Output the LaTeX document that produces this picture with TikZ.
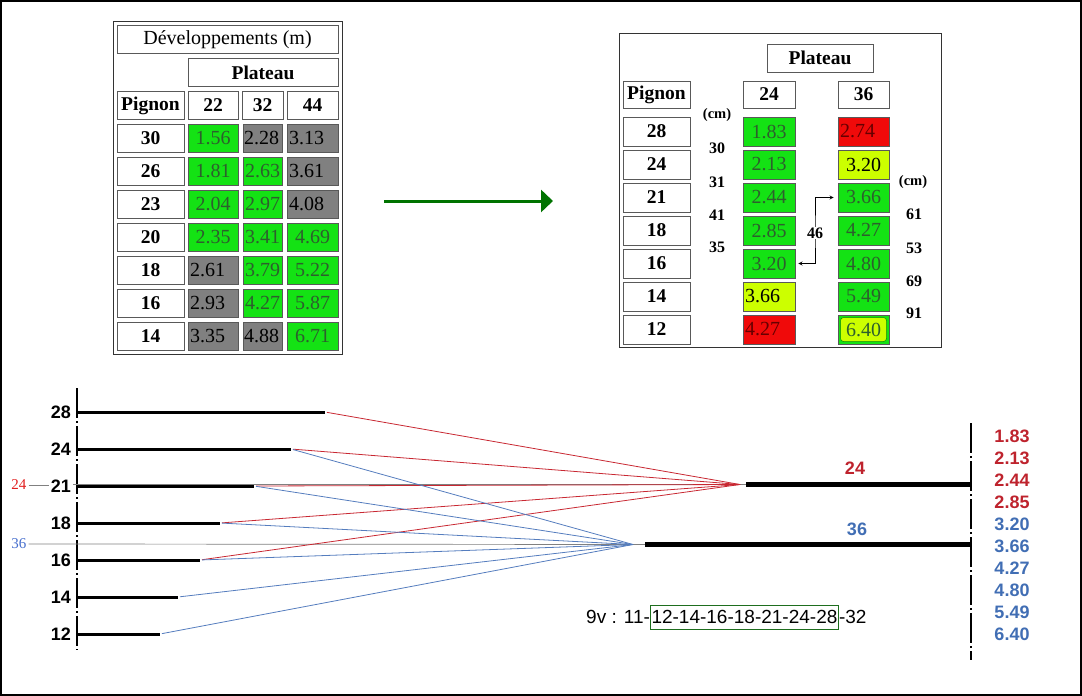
\documentclass[tikz,border=0pt]{standalone}
\usepackage{fontspec}
\setmainfont{Liberation Serif}
\setsansfont{Liberation Sans}
\usepackage{tikz}
\usetikzlibrary{positioning}
\usetikzlibrary{arrows}
\usetikzlibrary{arrows.meta}

\definecolor{cellgreen}{RGB}{20,226,20}
\definecolor{cellgrey}{RGB}{128,128,128}
\definecolor{cellyellow}{RGB}{204,255,0}
\definecolor{cellred}{RGB}{240,10,10}
\definecolor{numgreen}{RGB}{45,95,45}
\definecolor{arrowgreen}{RGB}{0,115,0}
\definecolor{ringred}{RGB}{190,35,45}
\definecolor{ringblue}{RGB}{65,110,180}
\definecolor{chainred}{RGB}{200,40,50}
\definecolor{chainblue}{RGB}{85,125,190}
\definecolor{refred}{RGB}{225,30,30}
\definecolor{refblue}{RGB}{70,110,205}
\definecolor{boxgreen}{RGB}{30,110,30}

\tikzset{
  cell/.style={draw=black!65, line width=0.8pt, fill=white, minimum height=28, inner sep=2pt, font=\fontsize{20}{20}\selectfont},
  head/.style={cell, font=\fontsize{19.5}{20}\selectfont\bfseries},
  good/.style={cell, fill=cellgreen, text=numgreen, align=center},
  poor/.style={cell, fill=cellgrey, align=left},
  warn/.style={cell, fill=cellyellow, align=left},
  bad/.style={cell, fill=cellred, text=black!60!red, align=left},
  c22/.style={text width=46pt},
  c32/.style={text width=37pt, inner xsep=1pt},
  c44/.style={text width=47pt},
  d24/.style={text width=48pt, minimum height=29},
  d36/.style={text width=47pt, minimum height=29},
  gapnum/.style={font=\fontsize{16}{16}\selectfont\bfseries, inner sep=1pt},
  cog/.style={font=\sffamily\fontsize{18}{18}\selectfont\bfseries, anchor=east, inner sep=2pt},
  devnum/.style={font=\sffamily\fontsize{18}{18}\selectfont\bfseries, inner sep=1pt},
  axisline/.style={line width=1.5pt, dash pattern=on 30pt off 3pt on 2pt off 3pt},
  cogbar/.style={line width=3pt},
  ringbar/.style={line width=4.5pt},
  refline/.style={draw=black!50, line width=0.7pt},
  redchain/.style={draw=chainred, line width=0.8pt, shorten <=2pt},
  bluechain/.style={draw=chainblue, line width=0.8pt, shorten <=2pt}
}

\begin{document}
\begin{tikzpicture}[x=1pt, y=-1pt]

  \useasboundingbox (0,0) rectangle (1082,696);
  \draw[line width=2pt] (1,1) rectangle (1081,695);

  % Left table
  \draw[line width=1pt, black!80] (113,21) rectangle (342,354);
  \node[cell, minimum width=221] (ltitle) at (227.5,39.5) {Développements (m)};
  \node[head, minimum width=150] (lplat) at (263,72.5) {Plateau};
  \node[head, minimum width=67] (lpig) at (150.5,105.5) {Pignon};
  \node[head, minimum width=50] (l22) at (213,105.5) {22};
  \node[head, minimum width=41] (l32) at (262.5,105.5) {32};
  \node[head, minimum width=51] (l44) at (312.5,105.5) {44};

  \node[head, minimum width=67] (lp30) at (150.5,138) {30};
  \node[good, c22] (l30a) at (213,138) {1.56};
  \node[poor, c32] (l30b) at (262.5,138) {2.28};
  \node[poor, c44] (l30c) at (312.5,138) {3.13};

  \node[head, minimum width=67] (lp26) at (150.5,171) {26};
  \node[good, c22] (l26a) at (213,171) {1.81};
  \node[good, c32] (l26b) at (262.5,171) {2.63};
  \node[poor, c44] (l26c) at (312.5,171) {3.61};

  \node[head, minimum width=67] (lp23) at (150.5,204) {23};
  \node[good, c22] (l23a) at (213,204) {2.04};
  \node[good, c32] (l23b) at (262.5,204) {2.97};
  \node[poor, c44] (l23c) at (312.5,204) {4.08};

  \node[head, minimum width=67] (lp20) at (150.5,237) {20};
  \node[good, c22] (l20a) at (213,237) {2.35};
  \node[good, c32] (l20b) at (262.5,237) {3.41};
  \node[good, c44] (l20c) at (312.5,237) {4.69};

  \node[head, minimum width=67] (lp18) at (150.5,270) {18};
  \node[poor, c22] (l18a) at (213,270) {2.61};
  \node[good, c32] (l18b) at (262.5,270) {3.79};
  \node[good, c44] (l18c) at (312.5,270) {5.22};

  \node[head, minimum width=67] (lp16) at (150.5,303) {16};
  \node[poor, c22] (l16a) at (213,303) {2.93};
  \node[good, c32] (l16b) at (262.5,303) {4.27};
  \node[good, c44] (l16c) at (312.5,303) {5.87};

  \node[head, minimum width=67] (lp14) at (150.5,336) {14};
  \node[poor, c22] (l14a) at (213,336) {3.35};
  \node[poor, c32] (l14b) at (262.5,336) {4.88};
  \node[good, c44] (l14c) at (312.5,336) {6.71};

  % Green arrow between the tables
  \coordinate (arrA) at (384,201);
  \coordinate (arrB) at (553,201);
  \draw[-{Triangle[length=12pt, width=22pt]}, line width=3pt, arrowgreen] (arrA) -- (arrB);

  % Right table
  \draw[line width=1pt, black!80] (619,33) rectangle (941,347);
  \node[head, minimum width=106] (rplat) at (820,58) {Plateau};
  \node[head, minimum width=67, minimum height=27] (rpig) at (656.5,94.5) {Pignon};
  \node[head, minimum width=52, minimum height=27] (r24) at (769,94.5) {24};
  \node[head, minimum width=51, minimum height=27] (r36) at (863.5,94.5) {36};

  \node[head, minimum width=67, minimum height=29] (rp28) at (656.5,131.5) {28};
  \node[good, d24] (a28) at (769,131.5) {1.83};
  \node[bad, d36] (b28) at (863.5,131.5) {2.74};

  \node[head, minimum width=67, minimum height=29] (rp24) at (656.5,164.5) {24};
  \node[good, d24] (a24) at (769,164.5) {2.13};
  \node[warn, d36, align=center] (b24) at (863.5,164.5) {3.20};

  \node[head, minimum width=67, minimum height=29] (rp21) at (656.5,197.5) {21};
  \node[good, d24] (a21) at (769,197.5) {2.44};
  \node[good, d36] (b21) at (863.5,197.5) {3.66};

  \node[head, minimum width=67, minimum height=29] (rp18) at (656.5,230.5) {18};
  \node[good, d24] (a18) at (769,230.5) {2.85};
  \node[good, d36] (b18) at (863.5,230.5) {4.27};

  \node[head, minimum width=67, minimum height=29] (rp16) at (656.5,263.5) {16};
  \node[good, d24] (a16) at (769,263.5) {3.20};
  \node[good, d36] (b16) at (863.5,263.5) {4.80};

  \node[head, minimum width=67, minimum height=29] (rp14) at (656.5,296.5) {14};
  \node[warn, d24] (a14) at (769,296.5) {3.66};
  \node[good, d36] (b14) at (863.5,296.5) {5.49};

  \node[head, minimum width=67, minimum height=29] (rp12) at (656.5,329.5) {12};
  \node[bad, d24] (a12) at (769,329.5) {4.27};
  \node[good, d36] (b12) at (863.5,329.5) {};
  \node[fill=cellyellow, draw=cellgreen!60!black, line width=0.5pt, rounded corners=3pt, minimum width=46, minimum height=24, inner sep=1pt, text=numgreen, font=\fontsize{20}{20}\selectfont] (b12in) at (b12) {6.40};

  % Gaps in cm
  \node[gapnum, font=\fontsize{14.5}{14.5}\selectfont\bfseries] (cmA) at (717,115) {(cm)};
  \node[gapnum] (gA1) at (717,148) {30};
  \node[gapnum] (gA2) at (717,182) {31};
  \node[gapnum] (gA3) at (717,215) {41};
  \node[gapnum] (gA4) at (717,247) {35};
  \node[gapnum, font=\fontsize{14.5}{14.5}\selectfont\bfseries] (cmB) at (913,182) {(cm)};
  \node[gapnum] (gB1) at (914,214) {61};
  \node[gapnum] (gB2) at (914,248) {53};
  \node[gapnum] (gB3) at (914,281) {69};
  \node[gapnum] (gB4) at (914,313) {91};

  % Shift arrow
  \coordinate (jog) at (815,233);
  \draw[<->, >=stealth, line width=0.8pt, shorten <=3pt, shorten >=4pt] (a16.east) -| (jog) |- (b21.west);
  \node[gapnum, fill=white] (shift) at (jog) {46};

  % Bottom: cogs
  \coordinate (axL) at (77,388);
  \coordinate (axLend) at (77,650);
  \draw[axisline] (axL) -- (axLend);

  \node[cog] (g28) at (73,412) {28};
  \node[cog] (g24) at (73,449) {24};
  \node[cog] (g21) at (73,486) {21};
  \node[cog] (g18) at (73,523) {18};
  \node[cog] (g16) at (73,560) {16};
  \node[cog] (g14) at (73,597) {14};
  \node[cog] (g12) at (73,634) {12};

  \coordinate (e28) at (325,412);
  \coordinate (e24) at (291,449);
  \coordinate (e21) at (254,486);
  \coordinate (e18) at (220,523);
  \coordinate (e16) at (200,560);
  \coordinate (e14) at (178,597);
  \coordinate (e12) at (160,634);

  \draw[cogbar] (g28 -| axL) -- (e28);
  \draw[cogbar] (g24 -| axL) -- (e24);
  \draw[cogbar] (g21 -| axL) -- (e21);
  \draw[cogbar] (g18 -| axL) -- (e18);
  \draw[cogbar] (g16 -| axL) -- (e16);
  \draw[cogbar] (g14 -| axL) -- (e14);
  \draw[cogbar] (g12 -| axL) -- (e12);

  % Chainring references
  \coordinate (c24) at (740,484.5);
  \coordinate (c36) at (633,544.5);
  \coordinate (s24) at (746,484.5);
  \coordinate (s36) at (645,544.5);
  \node[font=\fontsize{15}{15}\selectfont, text=refred, inner sep=2pt] (ref24) at (19,485) {24};
  \node[font=\fontsize{15}{15}\selectfont, text=refblue, inner sep=2pt] (ref36) at (19,544) {36};
  \draw[refline] (ref24.east) -- (ref24.east -| g21.west);
  \draw[refline] (g21.east |- c24) -- (s24);
  \draw[refline] (ref36.east) -- (s36);

  % Chain lines
  \draw[redchain] (e28) -- (c24);
  \draw[redchain] (e24) -- (c24);
  \draw[redchain] (e21) -- (c24);
  \draw[redchain] (e18) -- (c24);
  \draw[redchain] (e16) -- (c24);
  \draw[bluechain] (e24) -- (c36);
  \draw[bluechain] (e21) -- (c36);
  \draw[bluechain] (e18) -- (c36);
  \draw[bluechain] (e16) -- (c36);
  \draw[bluechain] (e14) -- (c36);
  \draw[bluechain] (e12) -- (c36);

  % Chainrings
  \coordinate (axR) at (971,423);
  \coordinate (axRend) at (971,660);
  \draw[ringbar] (s24) -- (s24 -| axR);
  \draw[ringbar] (s36) -- (s36 -| axR);
  \draw[axisline] (axR) -- (axRend);
  \node[devnum, text=ringred] (n24) at (855,468) {24};
  \node[devnum, text=ringblue] (n36) at (857,529) {36};

  % Developments
  \node[devnum, text=ringred] (v1) at (1012,436) {1.83};
  \node[devnum, text=ringred] (v2) at (1012,458) {2.13};
  \node[devnum, text=ringred] (v3) at (1012,480) {2.44};
  \node[devnum, text=ringred] (v4) at (1012,502) {2.85};
  \node[devnum, text=ringblue] (v5) at (1012,524) {3.20};
  \node[devnum, text=ringblue] (v6) at (1012,546) {3.66};
  \node[devnum, text=ringblue] (v7) at (1012,568) {4.27};
  \node[devnum, text=ringblue] (v8) at (1012,590) {4.80};
  \node[devnum, text=ringblue] (v9) at (1012,612) {5.49};
  \node[devnum, text=ringblue] (v10) at (1012,634) {6.40};

  % Cassette
  \node[anchor=west, inner sep=0pt, font=\sffamily\fontsize{19}{19}\selectfont] (cassA) at (586,617) {9v : 11-};
  \node[right=0pt of cassA, draw=boxgreen, line width=0.8pt, inner xsep=1pt, minimum height=24, font=\sffamily\fontsize{19}{19}\selectfont] (cassB) {12-14-16-18-21-24-28};
  \node[right=0pt of cassB, inner sep=0pt, font=\sffamily\fontsize{19}{19}\selectfont] (cassC) {-32};

\end{tikzpicture}
\end{document}
